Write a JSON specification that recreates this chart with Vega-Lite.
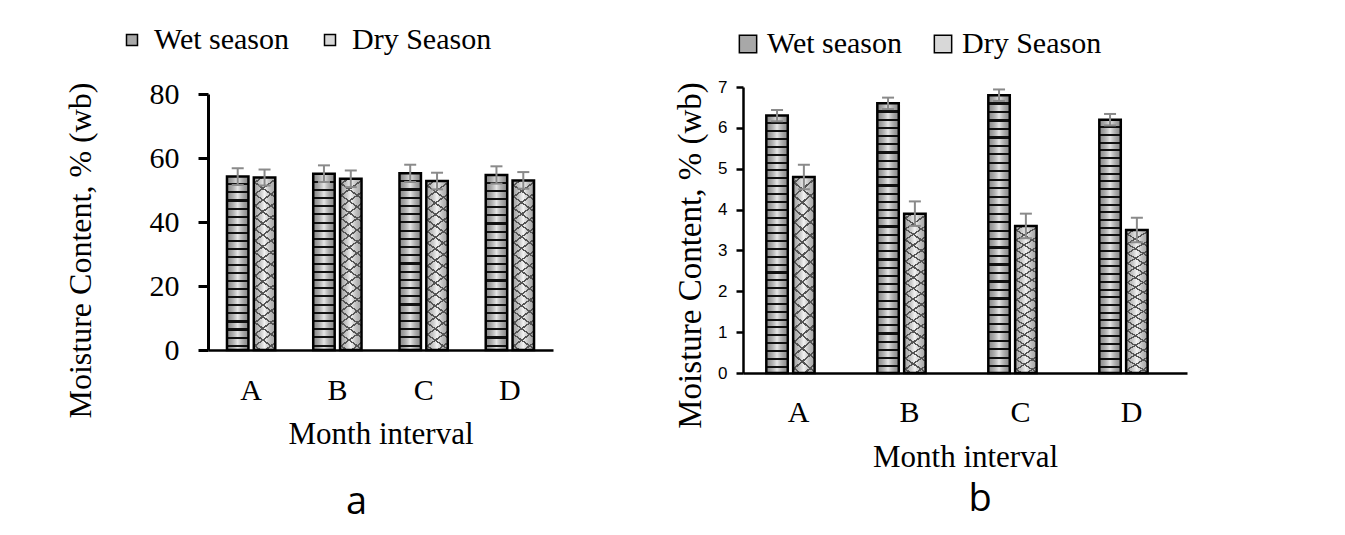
{
"$schema":"https://vega.github.io/schema/vega-lite/v6.json",
"background":"white",
"padding":{"top":25,"left":63,"right":5,"bottom":5},
"spacing":121,
"resolve":{"scale":{"color":"independent"},"legend":{"color":"independent"}},
"config":{"view":{"stroke":null}},
"datasets":{
"a":[
{"month":"A","season":"Wet season","value":54.2,"lo":51.6,"hi":56.8},
{"month":"A","season":"Dry Season","value":53.9,"lo":51.4,"hi":56.4},
{"month":"B","season":"Wet season","value":55.1,"lo":52.5,"hi":57.7},
{"month":"B","season":"Dry Season","value":53.5,"lo":50.9,"hi":56.1},
{"month":"C","season":"Wet season","value":55.2,"lo":52.5,"hi":57.9},
{"month":"C","season":"Dry Season","value":52.8,"lo":50.2,"hi":55.4},
{"month":"D","season":"Wet season","value":54.7,"lo":52.0,"hi":57.4},
{"month":"D","season":"Dry Season","value":53.0,"lo":50.4,"hi":55.6}
],
"b":[
{"month":"A","season":"Wet season","value":6.3,"lo":6.16,"hi":6.44},
{"month":"A","season":"Dry Season","value":4.8,"lo":4.5,"hi":5.1},
{"month":"B","season":"Wet season","value":6.6,"lo":6.46,"hi":6.74},
{"month":"B","season":"Dry Season","value":3.9,"lo":3.6,"hi":4.2},
{"month":"C","season":"Wet season","value":6.8,"lo":6.66,"hi":6.94},
{"month":"C","season":"Dry Season","value":3.6,"lo":3.3,"hi":3.9},
{"month":"D","season":"Wet season","value":6.2,"lo":6.06,"hi":6.34},
{"month":"D","season":"Dry Season","value":3.5,"lo":3.2,"hi":3.8}
]
},
"hconcat":[
{
"width":345,"height":263,
"data":{"name":"a"},
"title":{"text":"a","orient":"bottom","font":"Open Sans","fontSize":38,"fontWeight":"normal","color":"#000","dx":-24,"offset":65,"baseline":"alphabetic","anchor":"middle"},
"encoding":{
"x":{"field":"month","type":"nominal","scale":{"paddingInner":0.44,"paddingOuter":0.22},"axis":{"title":"Month interval","labelAngle":0,"ticks":false,"tickSize":0,"domainColor":"black","domainWidth":2.5,"labelFont":"Liberation Serif","labelFontSize":30,"labelColor":"black","labelBaseline":"alphabetic","labelPadding":49,"titleFont":"Liberation Serif","titleFontSize":31,"titleFontWeight":"normal","titleColor":"black","titleBaseline":"alphabetic","titleY":93,"titleX":172.5}},
"xOffset":{"field":"season","type":"nominal","scale":{"domain":["Wet season","Dry Season"],"paddingInner":0.2}}
},
"layer":[
{"mark":{"type":"bar","strokeWidth":0},
"encoding":{"y":{"field":"value","type":"quantitative","scale":{"domain":[0,80],"range":[263,7]},"axis":{"title":"Moisture Content, % (wb)","values":[0,20,40,60,80],"grid":false,"domainColor":"black","domainWidth":3,"tickColor":"black","tickWidth":3,"tickSize":10,"labelPadding":19,"labelFont":"Liberation Serif","labelFontSize":30,"labelColor":"black","titleFont":"Liberation Serif","titleFontSize":32,"titleFontWeight":"normal","titleColor":"black","titleX":-128,"titleY":163,"titleAngle":-90,"titleAlign":"center","titleBaseline":"middle"}},
"color":{"field":"season","type":"nominal","scale":{"domain":["Wet season","Dry Season"],"range":["#a8a8a8","#d8d8d8"]},"legend":{"title":null,"orient":"none","legendX":-91,"legendY":-62,"direction":"horizontal","symbolType":"square","symbolSize":121,"symbolStrokeColor":"black","symbolStrokeWidth":1.5,"symbolOpacity":1,"labelFont":"Liberation Serif","labelFontSize":30,"labelColor":"black","labelOffset":7,"columnPadding":25,"padding":0,"labelLimit":300}}}},
{"mark":{"type":"bar","fill":{"gradient":"linear","x1":0,"y1":0,"x2":1,"y2":0,"stops":[{"offset":0,"color":"rgba(90,90,90,0.4)"},{"offset":0.5,"color":"rgba(255,255,255,0.7)"},{"offset":1,"color":"rgba(90,90,90,0.4)"}]}},
"encoding":{"y":{"field":"value","type":"quantitative"}}},
{"transform":[{"filter":"datum.season == 'Wet season'"}],
"mark":{"type":"bar","fill":{"gradient":"linear","x1":0,"y1":0,"x2":0,"y2":1,"stops":[
{"offset":0,"color":"rgba(0,0,0,0)"},
{"offset":0.039,"color":"rgba(0,0,0,0)"},{"offset":0.039,"color":"#111"},{"offset":0.051,"color":"#111"},{"offset":0.051,"color":"rgba(0,0,0,0)"},
{"offset":0.0855,"color":"rgba(0,0,0,0)"},{"offset":0.0855,"color":"#111"},{"offset":0.0975,"color":"#111"},{"offset":0.0975,"color":"rgba(0,0,0,0)"},
{"offset":0.132,"color":"rgba(0,0,0,0)"},{"offset":0.132,"color":"#111"},{"offset":0.144,"color":"#111"},{"offset":0.144,"color":"rgba(0,0,0,0)"},
{"offset":0.1785,"color":"rgba(0,0,0,0)"},{"offset":0.1785,"color":"#111"},{"offset":0.1905,"color":"#111"},{"offset":0.1905,"color":"rgba(0,0,0,0)"},
{"offset":0.225,"color":"rgba(0,0,0,0)"},{"offset":0.225,"color":"#111"},{"offset":0.237,"color":"#111"},{"offset":0.237,"color":"rgba(0,0,0,0)"},
{"offset":0.2715,"color":"rgba(0,0,0,0)"},{"offset":0.2715,"color":"#111"},{"offset":0.2835,"color":"#111"},{"offset":0.2835,"color":"rgba(0,0,0,0)"},
{"offset":0.318,"color":"rgba(0,0,0,0)"},{"offset":0.318,"color":"#111"},{"offset":0.33,"color":"#111"},{"offset":0.33,"color":"rgba(0,0,0,0)"},
{"offset":0.3645,"color":"rgba(0,0,0,0)"},{"offset":0.3645,"color":"#111"},{"offset":0.3765,"color":"#111"},{"offset":0.3765,"color":"rgba(0,0,0,0)"},
{"offset":0.411,"color":"rgba(0,0,0,0)"},{"offset":0.411,"color":"#111"},{"offset":0.423,"color":"#111"},{"offset":0.423,"color":"rgba(0,0,0,0)"},
{"offset":0.4575,"color":"rgba(0,0,0,0)"},{"offset":0.4575,"color":"#111"},{"offset":0.4695,"color":"#111"},{"offset":0.4695,"color":"rgba(0,0,0,0)"},
{"offset":0.504,"color":"rgba(0,0,0,0)"},{"offset":0.504,"color":"#111"},{"offset":0.516,"color":"#111"},{"offset":0.516,"color":"rgba(0,0,0,0)"},
{"offset":0.5505,"color":"rgba(0,0,0,0)"},{"offset":0.5505,"color":"#111"},{"offset":0.5625,"color":"#111"},{"offset":0.5625,"color":"rgba(0,0,0,0)"},
{"offset":0.597,"color":"rgba(0,0,0,0)"},{"offset":0.597,"color":"#111"},{"offset":0.609,"color":"#111"},{"offset":0.609,"color":"rgba(0,0,0,0)"},
{"offset":0.6435,"color":"rgba(0,0,0,0)"},{"offset":0.6435,"color":"#111"},{"offset":0.6555,"color":"#111"},{"offset":0.6555,"color":"rgba(0,0,0,0)"},
{"offset":0.69,"color":"rgba(0,0,0,0)"},{"offset":0.69,"color":"#111"},{"offset":0.702,"color":"#111"},{"offset":0.702,"color":"rgba(0,0,0,0)"},
{"offset":0.7365,"color":"rgba(0,0,0,0)"},{"offset":0.7365,"color":"#111"},{"offset":0.7485,"color":"#111"},{"offset":0.7485,"color":"rgba(0,0,0,0)"},
{"offset":0.783,"color":"rgba(0,0,0,0)"},{"offset":0.783,"color":"#111"},{"offset":0.795,"color":"#111"},{"offset":0.795,"color":"rgba(0,0,0,0)"},
{"offset":0.8295,"color":"rgba(0,0,0,0)"},{"offset":0.8295,"color":"#111"},{"offset":0.8415,"color":"#111"},{"offset":0.8415,"color":"rgba(0,0,0,0)"},
{"offset":0.876,"color":"rgba(0,0,0,0)"},{"offset":0.876,"color":"#111"},{"offset":0.888,"color":"#111"},{"offset":0.888,"color":"rgba(0,0,0,0)"},
{"offset":0.9225,"color":"rgba(0,0,0,0)"},{"offset":0.9225,"color":"#111"},{"offset":0.9345,"color":"#111"},{"offset":0.9345,"color":"rgba(0,0,0,0)"},
{"offset":0.969,"color":"rgba(0,0,0,0)"},{"offset":0.969,"color":"#111"},{"offset":0.981,"color":"#111"},{"offset":0.981,"color":"rgba(0,0,0,0)"},
{"offset":1,"color":"rgba(0,0,0,0)"}]}},
"encoding":{"y":{"field":"value","type":"quantitative"}}},
{"transform":[{"filter":"datum.season == 'Dry Season'"}],
"mark":{"type":"bar","fill":{"gradient":"linear","x1":0,"y1":0,"x2":0.1,"y2":1.1,"stops":[
{"offset":0,"color":"rgba(0,0,0,0)"},
{"offset":0.025,"color":"rgba(0,0,0,0)"},{"offset":0.025,"color":"#555"},{"offset":0.035,"color":"#555"},{"offset":0.035,"color":"rgba(0,0,0,0)"},
{"offset":0.086,"color":"rgba(0,0,0,0)"},{"offset":0.086,"color":"#555"},{"offset":0.096,"color":"#555"},{"offset":0.096,"color":"rgba(0,0,0,0)"},
{"offset":0.147,"color":"rgba(0,0,0,0)"},{"offset":0.147,"color":"#555"},{"offset":0.157,"color":"#555"},{"offset":0.157,"color":"rgba(0,0,0,0)"},
{"offset":0.208,"color":"rgba(0,0,0,0)"},{"offset":0.208,"color":"#555"},{"offset":0.218,"color":"#555"},{"offset":0.218,"color":"rgba(0,0,0,0)"},
{"offset":0.269,"color":"rgba(0,0,0,0)"},{"offset":0.269,"color":"#555"},{"offset":0.279,"color":"#555"},{"offset":0.279,"color":"rgba(0,0,0,0)"},
{"offset":0.33,"color":"rgba(0,0,0,0)"},{"offset":0.33,"color":"#555"},{"offset":0.34,"color":"#555"},{"offset":0.34,"color":"rgba(0,0,0,0)"},
{"offset":0.391,"color":"rgba(0,0,0,0)"},{"offset":0.391,"color":"#555"},{"offset":0.401,"color":"#555"},{"offset":0.401,"color":"rgba(0,0,0,0)"},
{"offset":0.452,"color":"rgba(0,0,0,0)"},{"offset":0.452,"color":"#555"},{"offset":0.462,"color":"#555"},{"offset":0.462,"color":"rgba(0,0,0,0)"},
{"offset":0.513,"color":"rgba(0,0,0,0)"},{"offset":0.513,"color":"#555"},{"offset":0.523,"color":"#555"},{"offset":0.523,"color":"rgba(0,0,0,0)"},
{"offset":0.574,"color":"rgba(0,0,0,0)"},{"offset":0.574,"color":"#555"},{"offset":0.584,"color":"#555"},{"offset":0.584,"color":"rgba(0,0,0,0)"},
{"offset":0.635,"color":"rgba(0,0,0,0)"},{"offset":0.635,"color":"#555"},{"offset":0.645,"color":"#555"},{"offset":0.645,"color":"rgba(0,0,0,0)"},
{"offset":0.696,"color":"rgba(0,0,0,0)"},{"offset":0.696,"color":"#555"},{"offset":0.706,"color":"#555"},{"offset":0.706,"color":"rgba(0,0,0,0)"},
{"offset":0.757,"color":"rgba(0,0,0,0)"},{"offset":0.757,"color":"#555"},{"offset":0.767,"color":"#555"},{"offset":0.767,"color":"rgba(0,0,0,0)"},
{"offset":0.818,"color":"rgba(0,0,0,0)"},{"offset":0.818,"color":"#555"},{"offset":0.828,"color":"#555"},{"offset":0.828,"color":"rgba(0,0,0,0)"},
{"offset":0.879,"color":"rgba(0,0,0,0)"},{"offset":0.879,"color":"#555"},{"offset":0.889,"color":"#555"},{"offset":0.889,"color":"rgba(0,0,0,0)"},
{"offset":0.94,"color":"rgba(0,0,0,0)"},{"offset":0.94,"color":"#555"},{"offset":0.95,"color":"#555"},{"offset":0.95,"color":"rgba(0,0,0,0)"},
{"offset":1,"color":"rgba(0,0,0,0)"}]}},
"encoding":{"y":{"field":"value","type":"quantitative"}}},
{"transform":[{"filter":"datum.season == 'Dry Season'"}],
"mark":{"type":"bar","fill":{"gradient":"linear","x1":0.1,"y1":0,"x2":0,"y2":1.1,"stops":[
{"offset":0,"color":"rgba(0,0,0,0)"},
{"offset":0.025,"color":"rgba(0,0,0,0)"},{"offset":0.025,"color":"#555"},{"offset":0.035,"color":"#555"},{"offset":0.035,"color":"rgba(0,0,0,0)"},
{"offset":0.086,"color":"rgba(0,0,0,0)"},{"offset":0.086,"color":"#555"},{"offset":0.096,"color":"#555"},{"offset":0.096,"color":"rgba(0,0,0,0)"},
{"offset":0.147,"color":"rgba(0,0,0,0)"},{"offset":0.147,"color":"#555"},{"offset":0.157,"color":"#555"},{"offset":0.157,"color":"rgba(0,0,0,0)"},
{"offset":0.208,"color":"rgba(0,0,0,0)"},{"offset":0.208,"color":"#555"},{"offset":0.218,"color":"#555"},{"offset":0.218,"color":"rgba(0,0,0,0)"},
{"offset":0.269,"color":"rgba(0,0,0,0)"},{"offset":0.269,"color":"#555"},{"offset":0.279,"color":"#555"},{"offset":0.279,"color":"rgba(0,0,0,0)"},
{"offset":0.33,"color":"rgba(0,0,0,0)"},{"offset":0.33,"color":"#555"},{"offset":0.34,"color":"#555"},{"offset":0.34,"color":"rgba(0,0,0,0)"},
{"offset":0.391,"color":"rgba(0,0,0,0)"},{"offset":0.391,"color":"#555"},{"offset":0.401,"color":"#555"},{"offset":0.401,"color":"rgba(0,0,0,0)"},
{"offset":0.452,"color":"rgba(0,0,0,0)"},{"offset":0.452,"color":"#555"},{"offset":0.462,"color":"#555"},{"offset":0.462,"color":"rgba(0,0,0,0)"},
{"offset":0.513,"color":"rgba(0,0,0,0)"},{"offset":0.513,"color":"#555"},{"offset":0.523,"color":"#555"},{"offset":0.523,"color":"rgba(0,0,0,0)"},
{"offset":0.574,"color":"rgba(0,0,0,0)"},{"offset":0.574,"color":"#555"},{"offset":0.584,"color":"#555"},{"offset":0.584,"color":"rgba(0,0,0,0)"},
{"offset":0.635,"color":"rgba(0,0,0,0)"},{"offset":0.635,"color":"#555"},{"offset":0.645,"color":"#555"},{"offset":0.645,"color":"rgba(0,0,0,0)"},
{"offset":0.696,"color":"rgba(0,0,0,0)"},{"offset":0.696,"color":"#555"},{"offset":0.706,"color":"#555"},{"offset":0.706,"color":"rgba(0,0,0,0)"},
{"offset":0.757,"color":"rgba(0,0,0,0)"},{"offset":0.757,"color":"#555"},{"offset":0.767,"color":"#555"},{"offset":0.767,"color":"rgba(0,0,0,0)"},
{"offset":0.818,"color":"rgba(0,0,0,0)"},{"offset":0.818,"color":"#555"},{"offset":0.828,"color":"#555"},{"offset":0.828,"color":"rgba(0,0,0,0)"},
{"offset":0.879,"color":"rgba(0,0,0,0)"},{"offset":0.879,"color":"#555"},{"offset":0.889,"color":"#555"},{"offset":0.889,"color":"rgba(0,0,0,0)"},
{"offset":0.94,"color":"rgba(0,0,0,0)"},{"offset":0.94,"color":"#555"},{"offset":0.95,"color":"#555"},{"offset":0.95,"color":"rgba(0,0,0,0)"},
{"offset":1,"color":"rgba(0,0,0,0)"}]}},
"encoding":{"y":{"field":"value","type":"quantitative"}}},
{"mark":{"type":"bar","fillOpacity":0,"stroke":"black","strokeWidth":2.5},
"encoding":{"y":{"field":"value","type":"quantitative"}}},
{"mark":{"type":"rule","color":"#8a8a8a","strokeWidth":2},
"encoding":{"y":{"field":"lo","type":"quantitative"},"y2":{"field":"hi"}}},
{"mark":{"type":"tick","color":"#8a8a8a","thickness":2,"size":12,"orient":"horizontal","opacity":1},
"encoding":{"y":{"field":"lo","type":"quantitative"}}},
{"mark":{"type":"tick","color":"#8a8a8a","thickness":2,"size":12,"orient":"horizontal","opacity":1},
"encoding":{"y":{"field":"hi","type":"quantitative"}}}
]
},
{
"width":444,"height":286,
"data":{"name":"b"},
"title":{"text":"b","orient":"bottom","font":"Open Sans","fontSize":38,"fontWeight":"normal","color":"#000","dx":15,"offset":39,"baseline":"alphabetic","anchor":"middle"},
"encoding":{
"x":{"field":"month","type":"nominal","scale":{"paddingInner":0.42,"paddingOuter":0.21},"axis":{"title":"Month interval","labelAngle":0,"ticks":false,"tickSize":0,"domainColor":"black","domainWidth":2.5,"labelFont":"Liberation Serif","labelFontSize":30,"labelColor":"black","labelBaseline":"alphabetic","labelPadding":48,"titleFont":"Liberation Serif","titleFontSize":31,"titleFontWeight":"normal","titleColor":"black","titleBaseline":"alphabetic","titleY":93,"titleX":222}},
"xOffset":{"field":"season","type":"nominal","scale":{"domain":["Wet season","Dry Season"],"paddingInner":0.18}}
},
"layer":[
{"mark":{"type":"bar","strokeWidth":0},
"encoding":{"y":{"field":"value","type":"quantitative","scale":{"domain":[0,7]},"axis":{"title":"Moisture Content, % (wb)","values":[0,1,2,3,4,5,6,7],"grid":false,"domainColor":"black","domainWidth":2.5,"tickColor":"black","tickWidth":2.5,"tickSize":7,"labelPadding":9,"labelFont":"Liberation Sans","labelFontSize":17,"labelColor":"black","titleFont":"Liberation Serif","titleFontSize":33,"titleFontWeight":"normal","titleColor":"black","titleX":-53,"titleY":168,"titleAngle":-90,"titleAlign":"center","titleBaseline":"middle"}},
"color":{"field":"season","type":"nominal","scale":{"domain":["Wet season","Dry Season"],"range":["#a8a8a8","#d8d8d8"]},"legend":{"title":null,"orient":"none","legendX":-14,"legendY":-62,"direction":"horizontal","symbolType":"square","symbolSize":300,"symbolStrokeColor":"black","symbolStrokeWidth":1.5,"symbolOpacity":1,"labelFont":"Liberation Serif","labelFontSize":30,"labelColor":"black","labelOffset":4,"columnPadding":25,"padding":4,"labelLimit":300}}}},
{"mark":{"type":"bar","fill":{"gradient":"linear","x1":0,"y1":0,"x2":1,"y2":0,"stops":[{"offset":0,"color":"rgba(90,90,90,0.4)"},{"offset":0.5,"color":"rgba(255,255,255,0.7)"},{"offset":1,"color":"rgba(90,90,90,0.4)"}]}},
"encoding":{"y":{"field":"value","type":"quantitative"}}},
{"transform":[{"filter":"datum.season == 'Wet season'"}],
"mark":{"type":"bar","fill":{"gradient":"linear","x1":0,"y1":0,"x2":0,"y2":1,"stops":[
{"offset":0,"color":"rgba(0,0,0,0)"},
{"offset":0.026,"color":"rgba(0,0,0,0)"},{"offset":0.026,"color":"#111"},{"offset":0.034,"color":"#111"},{"offset":0.034,"color":"rgba(0,0,0,0)"},
{"offset":0.0565,"color":"rgba(0,0,0,0)"},{"offset":0.0565,"color":"#111"},{"offset":0.0645,"color":"#111"},{"offset":0.0645,"color":"rgba(0,0,0,0)"},
{"offset":0.087,"color":"rgba(0,0,0,0)"},{"offset":0.087,"color":"#111"},{"offset":0.095,"color":"#111"},{"offset":0.095,"color":"rgba(0,0,0,0)"},
{"offset":0.1175,"color":"rgba(0,0,0,0)"},{"offset":0.1175,"color":"#111"},{"offset":0.1255,"color":"#111"},{"offset":0.1255,"color":"rgba(0,0,0,0)"},
{"offset":0.148,"color":"rgba(0,0,0,0)"},{"offset":0.148,"color":"#111"},{"offset":0.156,"color":"#111"},{"offset":0.156,"color":"rgba(0,0,0,0)"},
{"offset":0.1785,"color":"rgba(0,0,0,0)"},{"offset":0.1785,"color":"#111"},{"offset":0.1865,"color":"#111"},{"offset":0.1865,"color":"rgba(0,0,0,0)"},
{"offset":0.209,"color":"rgba(0,0,0,0)"},{"offset":0.209,"color":"#111"},{"offset":0.217,"color":"#111"},{"offset":0.217,"color":"rgba(0,0,0,0)"},
{"offset":0.2395,"color":"rgba(0,0,0,0)"},{"offset":0.2395,"color":"#111"},{"offset":0.2475,"color":"#111"},{"offset":0.2475,"color":"rgba(0,0,0,0)"},
{"offset":0.27,"color":"rgba(0,0,0,0)"},{"offset":0.27,"color":"#111"},{"offset":0.278,"color":"#111"},{"offset":0.278,"color":"rgba(0,0,0,0)"},
{"offset":0.3005,"color":"rgba(0,0,0,0)"},{"offset":0.3005,"color":"#111"},{"offset":0.3085,"color":"#111"},{"offset":0.3085,"color":"rgba(0,0,0,0)"},
{"offset":0.331,"color":"rgba(0,0,0,0)"},{"offset":0.331,"color":"#111"},{"offset":0.339,"color":"#111"},{"offset":0.339,"color":"rgba(0,0,0,0)"},
{"offset":0.3615,"color":"rgba(0,0,0,0)"},{"offset":0.3615,"color":"#111"},{"offset":0.3695,"color":"#111"},{"offset":0.3695,"color":"rgba(0,0,0,0)"},
{"offset":0.392,"color":"rgba(0,0,0,0)"},{"offset":0.392,"color":"#111"},{"offset":0.4,"color":"#111"},{"offset":0.4,"color":"rgba(0,0,0,0)"},
{"offset":0.4225,"color":"rgba(0,0,0,0)"},{"offset":0.4225,"color":"#111"},{"offset":0.4305,"color":"#111"},{"offset":0.4305,"color":"rgba(0,0,0,0)"},
{"offset":0.453,"color":"rgba(0,0,0,0)"},{"offset":0.453,"color":"#111"},{"offset":0.461,"color":"#111"},{"offset":0.461,"color":"rgba(0,0,0,0)"},
{"offset":0.4835,"color":"rgba(0,0,0,0)"},{"offset":0.4835,"color":"#111"},{"offset":0.4915,"color":"#111"},{"offset":0.4915,"color":"rgba(0,0,0,0)"},
{"offset":0.514,"color":"rgba(0,0,0,0)"},{"offset":0.514,"color":"#111"},{"offset":0.522,"color":"#111"},{"offset":0.522,"color":"rgba(0,0,0,0)"},
{"offset":0.5445,"color":"rgba(0,0,0,0)"},{"offset":0.5445,"color":"#111"},{"offset":0.5525,"color":"#111"},{"offset":0.5525,"color":"rgba(0,0,0,0)"},
{"offset":0.575,"color":"rgba(0,0,0,0)"},{"offset":0.575,"color":"#111"},{"offset":0.583,"color":"#111"},{"offset":0.583,"color":"rgba(0,0,0,0)"},
{"offset":0.6055,"color":"rgba(0,0,0,0)"},{"offset":0.6055,"color":"#111"},{"offset":0.6135,"color":"#111"},{"offset":0.6135,"color":"rgba(0,0,0,0)"},
{"offset":0.636,"color":"rgba(0,0,0,0)"},{"offset":0.636,"color":"#111"},{"offset":0.644,"color":"#111"},{"offset":0.644,"color":"rgba(0,0,0,0)"},
{"offset":0.6665,"color":"rgba(0,0,0,0)"},{"offset":0.6665,"color":"#111"},{"offset":0.6745,"color":"#111"},{"offset":0.6745,"color":"rgba(0,0,0,0)"},
{"offset":0.697,"color":"rgba(0,0,0,0)"},{"offset":0.697,"color":"#111"},{"offset":0.705,"color":"#111"},{"offset":0.705,"color":"rgba(0,0,0,0)"},
{"offset":0.7275,"color":"rgba(0,0,0,0)"},{"offset":0.7275,"color":"#111"},{"offset":0.7355,"color":"#111"},{"offset":0.7355,"color":"rgba(0,0,0,0)"},
{"offset":0.758,"color":"rgba(0,0,0,0)"},{"offset":0.758,"color":"#111"},{"offset":0.766,"color":"#111"},{"offset":0.766,"color":"rgba(0,0,0,0)"},
{"offset":0.7885,"color":"rgba(0,0,0,0)"},{"offset":0.7885,"color":"#111"},{"offset":0.7965,"color":"#111"},{"offset":0.7965,"color":"rgba(0,0,0,0)"},
{"offset":0.819,"color":"rgba(0,0,0,0)"},{"offset":0.819,"color":"#111"},{"offset":0.827,"color":"#111"},{"offset":0.827,"color":"rgba(0,0,0,0)"},
{"offset":0.8495,"color":"rgba(0,0,0,0)"},{"offset":0.8495,"color":"#111"},{"offset":0.8575,"color":"#111"},{"offset":0.8575,"color":"rgba(0,0,0,0)"},
{"offset":0.88,"color":"rgba(0,0,0,0)"},{"offset":0.88,"color":"#111"},{"offset":0.888,"color":"#111"},{"offset":0.888,"color":"rgba(0,0,0,0)"},
{"offset":0.9105,"color":"rgba(0,0,0,0)"},{"offset":0.9105,"color":"#111"},{"offset":0.9185,"color":"#111"},{"offset":0.9185,"color":"rgba(0,0,0,0)"},
{"offset":0.941,"color":"rgba(0,0,0,0)"},{"offset":0.941,"color":"#111"},{"offset":0.949,"color":"#111"},{"offset":0.949,"color":"rgba(0,0,0,0)"},
{"offset":0.9715,"color":"rgba(0,0,0,0)"},{"offset":0.9715,"color":"#111"},{"offset":0.9795,"color":"#111"},{"offset":0.9795,"color":"rgba(0,0,0,0)"},
{"offset":1,"color":"rgba(0,0,0,0)"}]}},
"encoding":{"y":{"field":"value","type":"quantitative"}}},
{"transform":[{"filter":"datum.season == 'Dry Season'"}],
"mark":{"type":"bar","fill":{"gradient":"linear","x1":0,"y1":0,"x2":0.1,"y2":1.1,"stops":[
{"offset":0,"color":"rgba(0,0,0,0)"},
{"offset":0.025,"color":"rgba(0,0,0,0)"},{"offset":0.025,"color":"#555"},{"offset":0.035,"color":"#555"},{"offset":0.035,"color":"rgba(0,0,0,0)"},
{"offset":0.086,"color":"rgba(0,0,0,0)"},{"offset":0.086,"color":"#555"},{"offset":0.096,"color":"#555"},{"offset":0.096,"color":"rgba(0,0,0,0)"},
{"offset":0.147,"color":"rgba(0,0,0,0)"},{"offset":0.147,"color":"#555"},{"offset":0.157,"color":"#555"},{"offset":0.157,"color":"rgba(0,0,0,0)"},
{"offset":0.208,"color":"rgba(0,0,0,0)"},{"offset":0.208,"color":"#555"},{"offset":0.218,"color":"#555"},{"offset":0.218,"color":"rgba(0,0,0,0)"},
{"offset":0.269,"color":"rgba(0,0,0,0)"},{"offset":0.269,"color":"#555"},{"offset":0.279,"color":"#555"},{"offset":0.279,"color":"rgba(0,0,0,0)"},
{"offset":0.33,"color":"rgba(0,0,0,0)"},{"offset":0.33,"color":"#555"},{"offset":0.34,"color":"#555"},{"offset":0.34,"color":"rgba(0,0,0,0)"},
{"offset":0.391,"color":"rgba(0,0,0,0)"},{"offset":0.391,"color":"#555"},{"offset":0.401,"color":"#555"},{"offset":0.401,"color":"rgba(0,0,0,0)"},
{"offset":0.452,"color":"rgba(0,0,0,0)"},{"offset":0.452,"color":"#555"},{"offset":0.462,"color":"#555"},{"offset":0.462,"color":"rgba(0,0,0,0)"},
{"offset":0.513,"color":"rgba(0,0,0,0)"},{"offset":0.513,"color":"#555"},{"offset":0.523,"color":"#555"},{"offset":0.523,"color":"rgba(0,0,0,0)"},
{"offset":0.574,"color":"rgba(0,0,0,0)"},{"offset":0.574,"color":"#555"},{"offset":0.584,"color":"#555"},{"offset":0.584,"color":"rgba(0,0,0,0)"},
{"offset":0.635,"color":"rgba(0,0,0,0)"},{"offset":0.635,"color":"#555"},{"offset":0.645,"color":"#555"},{"offset":0.645,"color":"rgba(0,0,0,0)"},
{"offset":0.696,"color":"rgba(0,0,0,0)"},{"offset":0.696,"color":"#555"},{"offset":0.706,"color":"#555"},{"offset":0.706,"color":"rgba(0,0,0,0)"},
{"offset":0.757,"color":"rgba(0,0,0,0)"},{"offset":0.757,"color":"#555"},{"offset":0.767,"color":"#555"},{"offset":0.767,"color":"rgba(0,0,0,0)"},
{"offset":0.818,"color":"rgba(0,0,0,0)"},{"offset":0.818,"color":"#555"},{"offset":0.828,"color":"#555"},{"offset":0.828,"color":"rgba(0,0,0,0)"},
{"offset":0.879,"color":"rgba(0,0,0,0)"},{"offset":0.879,"color":"#555"},{"offset":0.889,"color":"#555"},{"offset":0.889,"color":"rgba(0,0,0,0)"},
{"offset":0.94,"color":"rgba(0,0,0,0)"},{"offset":0.94,"color":"#555"},{"offset":0.95,"color":"#555"},{"offset":0.95,"color":"rgba(0,0,0,0)"},
{"offset":1,"color":"rgba(0,0,0,0)"}]}},
"encoding":{"y":{"field":"value","type":"quantitative"}}},
{"transform":[{"filter":"datum.season == 'Dry Season'"}],
"mark":{"type":"bar","fill":{"gradient":"linear","x1":0.1,"y1":0,"x2":0,"y2":1.1,"stops":[
{"offset":0,"color":"rgba(0,0,0,0)"},
{"offset":0.025,"color":"rgba(0,0,0,0)"},{"offset":0.025,"color":"#555"},{"offset":0.035,"color":"#555"},{"offset":0.035,"color":"rgba(0,0,0,0)"},
{"offset":0.086,"color":"rgba(0,0,0,0)"},{"offset":0.086,"color":"#555"},{"offset":0.096,"color":"#555"},{"offset":0.096,"color":"rgba(0,0,0,0)"},
{"offset":0.147,"color":"rgba(0,0,0,0)"},{"offset":0.147,"color":"#555"},{"offset":0.157,"color":"#555"},{"offset":0.157,"color":"rgba(0,0,0,0)"},
{"offset":0.208,"color":"rgba(0,0,0,0)"},{"offset":0.208,"color":"#555"},{"offset":0.218,"color":"#555"},{"offset":0.218,"color":"rgba(0,0,0,0)"},
{"offset":0.269,"color":"rgba(0,0,0,0)"},{"offset":0.269,"color":"#555"},{"offset":0.279,"color":"#555"},{"offset":0.279,"color":"rgba(0,0,0,0)"},
{"offset":0.33,"color":"rgba(0,0,0,0)"},{"offset":0.33,"color":"#555"},{"offset":0.34,"color":"#555"},{"offset":0.34,"color":"rgba(0,0,0,0)"},
{"offset":0.391,"color":"rgba(0,0,0,0)"},{"offset":0.391,"color":"#555"},{"offset":0.401,"color":"#555"},{"offset":0.401,"color":"rgba(0,0,0,0)"},
{"offset":0.452,"color":"rgba(0,0,0,0)"},{"offset":0.452,"color":"#555"},{"offset":0.462,"color":"#555"},{"offset":0.462,"color":"rgba(0,0,0,0)"},
{"offset":0.513,"color":"rgba(0,0,0,0)"},{"offset":0.513,"color":"#555"},{"offset":0.523,"color":"#555"},{"offset":0.523,"color":"rgba(0,0,0,0)"},
{"offset":0.574,"color":"rgba(0,0,0,0)"},{"offset":0.574,"color":"#555"},{"offset":0.584,"color":"#555"},{"offset":0.584,"color":"rgba(0,0,0,0)"},
{"offset":0.635,"color":"rgba(0,0,0,0)"},{"offset":0.635,"color":"#555"},{"offset":0.645,"color":"#555"},{"offset":0.645,"color":"rgba(0,0,0,0)"},
{"offset":0.696,"color":"rgba(0,0,0,0)"},{"offset":0.696,"color":"#555"},{"offset":0.706,"color":"#555"},{"offset":0.706,"color":"rgba(0,0,0,0)"},
{"offset":0.757,"color":"rgba(0,0,0,0)"},{"offset":0.757,"color":"#555"},{"offset":0.767,"color":"#555"},{"offset":0.767,"color":"rgba(0,0,0,0)"},
{"offset":0.818,"color":"rgba(0,0,0,0)"},{"offset":0.818,"color":"#555"},{"offset":0.828,"color":"#555"},{"offset":0.828,"color":"rgba(0,0,0,0)"},
{"offset":0.879,"color":"rgba(0,0,0,0)"},{"offset":0.879,"color":"#555"},{"offset":0.889,"color":"#555"},{"offset":0.889,"color":"rgba(0,0,0,0)"},
{"offset":0.94,"color":"rgba(0,0,0,0)"},{"offset":0.94,"color":"#555"},{"offset":0.95,"color":"#555"},{"offset":0.95,"color":"rgba(0,0,0,0)"},
{"offset":1,"color":"rgba(0,0,0,0)"}]}},
"encoding":{"y":{"field":"value","type":"quantitative"}}},
{"mark":{"type":"bar","fillOpacity":0,"stroke":"black","strokeWidth":2.5},
"encoding":{"y":{"field":"value","type":"quantitative"}}},
{"mark":{"type":"rule","color":"#8a8a8a","strokeWidth":2},
"encoding":{"y":{"field":"lo","type":"quantitative"},"y2":{"field":"hi"}}},
{"mark":{"type":"tick","color":"#8a8a8a","thickness":2,"size":12,"orient":"horizontal","opacity":1},
"encoding":{"y":{"field":"lo","type":"quantitative"}}},
{"mark":{"type":"tick","color":"#8a8a8a","thickness":2,"size":12,"orient":"horizontal","opacity":1},
"encoding":{"y":{"field":"hi","type":"quantitative"}}}
]
}
]
}
